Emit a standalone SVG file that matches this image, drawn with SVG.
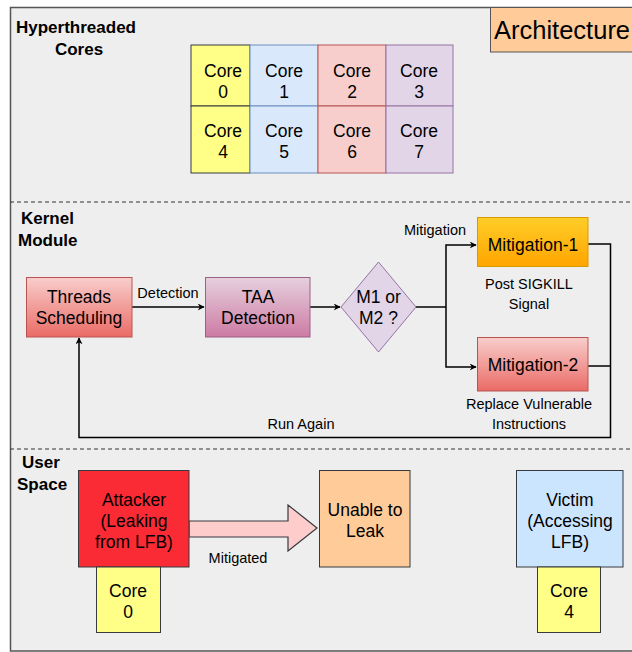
<svg xmlns="http://www.w3.org/2000/svg" width="632" height="652" viewBox="0 0 632 652">
<style>
text{font-family:"Liberation Sans",Arial,sans-serif;fill:#000}
.t{font-size:17.5px;text-anchor:middle}
.s{font-size:14.5px;text-anchor:middle}
.b{font-size:17px;font-weight:bold}
.y{fill:#ffff88;stroke:#36393d}
.bl{fill:#dae8fc;stroke:#6c8ebf}
.rd{fill:#f8cecc;stroke:#b85450}
.pu{fill:#e1d5e7;stroke:#9673a6}
.ln{fill:none;stroke:#000;stroke-width:1.5}
.dash{stroke:#333;stroke-width:1.2;stroke-dasharray:4 3}
</style>
<defs>
<linearGradient id="gRed" x1="0" y1="0" x2="0" y2="1"><stop offset="0" stop-color="#f8cecc"/><stop offset="1" stop-color="#ea6b66"/></linearGradient>
<linearGradient id="gPur" x1="0" y1="0" x2="0" y2="1"><stop offset="0" stop-color="#e6d0de"/><stop offset="1" stop-color="#cd7ba4"/></linearGradient>
<linearGradient id="gOr" x1="0" y1="0" x2="0" y2="1"><stop offset="0" stop-color="#ffcd28"/><stop offset="1" stop-color="#ffa500"/></linearGradient>
<marker id="ah" viewBox="0 0 10 10" refX="9" refY="5" markerWidth="7" markerHeight="7" markerUnits="userSpaceOnUse" orient="auto"><path d="M0,0 L10,5 L0,10 L3,5 Z" fill="#000"/></marker>
</defs>
<rect x="10.5" y="7.5" width="640" height="643.5" fill="#eeeeee" stroke="#555" stroke-width="1.5"/>
<line class="dash" x1="10" y1="202" x2="632" y2="202"/>
<line class="dash" x1="10" y1="449" x2="632" y2="449"/>

<g id="architecture">
<rect x="490.5" y="7.5" width="160" height="44.5" fill="#ffcc99" stroke="#555"/>
<text x="494" y="38.5" style="font-size:25.5px">Architecture</text>
</g>

<g id="hyper-label"><text class="b" x="16" y="33">Hyperthreaded</text><text class="b" x="79" y="55" text-anchor="middle">Cores</text></g>

<g id="core0"><rect class="y" x="191" y="45" width="59" height="61"/><text class="t" x="223" y="77">Core</text><text class="t" x="223" y="98">0</text></g>
<g id="core1"><rect class="bl" x="250" y="45" width="68" height="61"/><text class="t" x="284" y="77">Core</text><text class="t" x="284" y="98">1</text></g>
<g id="core2"><rect class="rd" x="318" y="45" width="68" height="61"/><text class="t" x="352" y="77">Core</text><text class="t" x="352" y="98">2</text></g>
<g id="core3"><rect class="pu" x="386" y="45" width="67" height="61"/><text class="t" x="419" y="77">Core</text><text class="t" x="419" y="98">3</text></g>
<g id="core4"><rect class="y" x="191" y="106" width="59" height="67"/><text class="t" x="223" y="137">Core</text><text class="t" x="223" y="158">4</text></g>
<g id="core5"><rect class="bl" x="250" y="106" width="68" height="67"/><text class="t" x="284" y="137">Core</text><text class="t" x="284" y="158">5</text></g>
<g id="core6"><rect class="rd" x="318" y="106" width="68" height="67"/><text class="t" x="352" y="137">Core</text><text class="t" x="352" y="158">6</text></g>
<g id="core7"><rect class="pu" x="386" y="106" width="67" height="67"/><text class="t" x="419" y="137">Core</text><text class="t" x="419" y="158">7</text></g>

<g id="kernel-label"><text class="b" x="21" y="224">Kernel</text><text class="b" x="18" y="246">Module</text></g>

<g id="connectors">
<line class="ln" x1="132" y1="307" x2="204" y2="307" marker-end="url(#ah)"/>
<line class="ln" x1="310" y1="307" x2="340" y2="307" marker-end="url(#ah)"/>
<polyline class="ln" points="416,307 446,307"/>
<polyline class="ln" points="446,307 446,245 476,245" marker-end="url(#ah)"/>
<polyline class="ln" points="446,307 446,367 476,367" marker-end="url(#ah)"/>
<polyline class="ln" points="588,244 610.5,244 610.5,437.5 79,437.5 79,338" marker-end="url(#ah)"/>
<line class="ln" x1="588" y1="366" x2="610.5" y2="366"/>
<path d="M189,521 L288,521 L288,505 L317,528 L288,551 L288,537 L189,537 Z" fill="#ffcccc" stroke="#36393d" stroke-width="1.2"/>
<text class="s" x="168" y="298">Detection</text>
<text class="s" x="435" y="235">Mitigation</text>
<text class="s" x="301" y="429">Run Again</text>
<text class="s" x="238" y="563">Mitigated</text>
</g>

<g id="threads"><rect x="26.5" y="277.5" width="105.5" height="59.5" fill="url(#gRed)" stroke="#b85450"/><text class="t" x="79" y="303">Threads</text><text class="t" x="79" y="324">Scheduling</text></g>
<g id="taa"><rect x="205.5" y="277.5" width="104.5" height="59.5" fill="url(#gPur)" stroke="#996185"/><text class="t" x="258" y="303">TAA</text><text class="t" x="258" y="324">Detection</text></g>
<g id="decision"><path d="M378.5,262 L416,307 L378.5,352 L341,307 Z" class="pu"/><text class="t" x="378.5" y="303">M1 or</text><text class="t" x="378.5" y="324">M2 ?</text></g>
<g id="mit1"><rect x="477.5" y="217.5" width="110.5" height="49" fill="url(#gOr)" stroke="#d79b00"/><text class="t" x="533" y="251">Mitigation-1</text><text class="s" x="529" y="289">Post SIGKILL</text><text class="s" x="529" y="309">Signal</text></g>
<g id="mit2"><rect x="477.5" y="337.5" width="110.5" height="53.5" fill="url(#gRed)" stroke="#b85450"/><text class="t" x="533" y="371">Mitigation-2</text><text class="s" x="529" y="409">Replace Vulnerable</text><text class="s" x="529" y="429">Instructions</text></g>

<g id="user-label"><text class="b" x="22" y="468">User</text><text class="b" x="17" y="490">Space</text></g>

<g id="attacker"><rect x="78.5" y="470.5" width="110.5" height="96.5" fill="#fa2b35" stroke="#36393d"/><text class="t" x="134" y="506">Attacker</text><text class="t" x="134" y="527">(Leaking</text><text class="t" x="134" y="548">from LFB)</text></g>
<g id="att-core"><rect class="y" x="96.5" y="567" width="64" height="65.5"/><text class="t" x="128" y="597">Core</text><text class="t" x="128" y="618">0</text></g>
<g id="unable"><rect x="319.5" y="470.5" width="90.5" height="96.5" fill="#ffcc99" stroke="#36393d"/><text class="t" x="365" y="516">Unable to</text><text class="t" x="365" y="537">Leak</text></g>
<g id="victim"><rect x="516.5" y="470.5" width="106.5" height="96.5" fill="#cce5ff" stroke="#36393d"/><text class="t" x="570" y="506">Victim</text><text class="t" x="570" y="527">(Accessing</text><text class="t" x="570" y="548">LFB)</text></g>
<g id="vic-core"><rect class="y" x="537.5" y="567" width="63" height="65.5"/><text class="t" x="569" y="597">Core</text><text class="t" x="569" y="618">4</text></g>
</svg>
